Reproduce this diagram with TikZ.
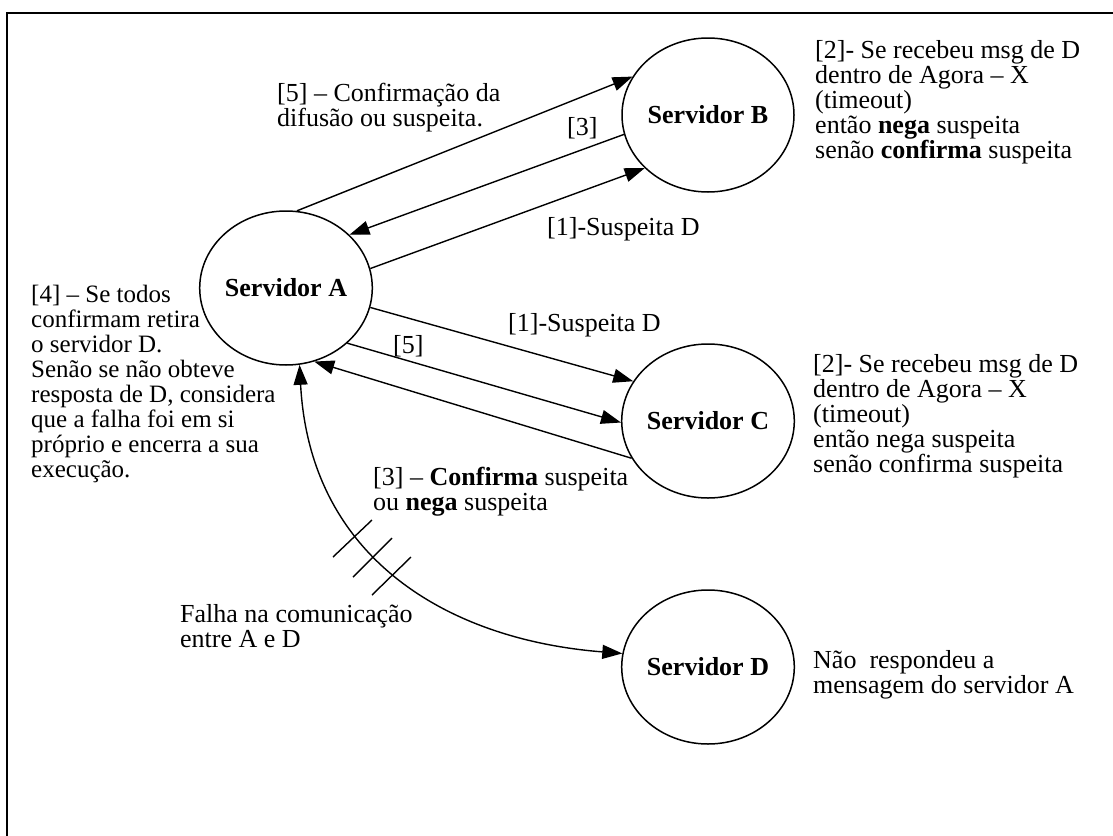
\documentclass[tikz,border=0pt]{standalone}
\usepackage{fontspec}
\setmainfont{Liberation Serif}
\usetikzlibrary{shapes.geometric,arrows.meta}

\begin{document}
\begin{tikzpicture}[
    x=1pt,
    y=-1pt,
    font=\fontsize{26}{25}\selectfont,
    servidor/.style={draw, ellipse, line width=1.5pt, minimum width=172pt,
      minimum height=154pt, inner sep=0pt,
      font=\fontsize{26}{25}\selectfont\bfseries},
    seta/.style={line width=1.4pt, -{Triangle[length=20pt,width=14pt]}},
    nota/.style={anchor=north west, align=left, inner sep=0pt}
  ]
    \useasboundingbox (0,0) rectangle (1113,835);
    \clip (0,0) rectangle (1113,835);
    % Moldura (cortada a direita e em baixo)
    \draw[line width=2pt] (7,13) rectangle (1140,860);

    % --- Servidores ---
    \node[servidor] (srvA) at (286,288) {Servidor A};
    \node[servidor] (srvB) at (708,115) {Servidor B};
    \node[servidor] (srvC) at (708,421) {Servidor C};
    \node[servidor] (srvD) at (708,667) {Servidor D};

    % --- A <-> B ---
    \draw[seta] (srvA.82) -- (srvB.153);
    \draw[seta] (srvB.193) -- (srvA.40);
    \draw[seta] (srvA.13) -- (srvB.220);
    \node[nota] (msgAB5) at (277,83) {[5] – Confirmação da\\difusão ou suspeita.};
    \node[nota] (msgBA3) at (567,117) {[3]};
    \node[nota] (msgAB1) at (547,217) {[1]-Suspeita D};

    % --- A <-> C ---
    \draw[seta] (srvA.347) -- (srvC.152);
    \draw[seta] (srvA.318) -- (srvC.181);
    \draw[seta] (srvC.206) -- (srvA.291);
    \node[nota] (msgAC1) at (508,313) {[1]-Suspeita D};
    \node[nota] (msgAC5) at (393,335) {[5]};
    \node[nota] (msgCA3) at (373,467)
      {[3] – \textbf{Confirma} suspeita\\ou \textbf{nega} suspeita};

    % --- A <-> D (falha) ---
    \draw[seta, {Triangle[length=20pt,width=14pt]}-{Triangle[length=20pt,width=14pt]}]
      (srvA.280) .. controls (310,560) and (450,640) .. (srvD.171);
    \draw[line width=1.4pt] (333,557) -- (372,520);
    \draw[line width=1.4pt] (353,577) -- (392,538);
    \draw[line width=1.4pt] (372,595) -- (411,557);
    \node[nota] (falha) at (180,604) {Falha na comunicação\\entre A e D};

    % --- Notas laterais ---
    \node[nota, font=\fontsize{25}{25}\selectfont] (notaA) at (31,285)
      {[4] – Se todos\\confirmam retira\\o servidor D.\\Senão se não obteve\\resposta de D, considera\\que a falha foi em si\\próprio e encerra a sua\\execução.};
    \node[nota] (notaB) at (815,40)
      {[2]- Se recebeu msg de D\\dentro de Agora – X\\(timeout)\\então \textbf{nega} suspeita\\senão \textbf{confirma} suspeita};
    \node[nota] (notaC) at (813,354)
      {[2]- Se recebeu msg de D\\dentro de Agora – X\\(timeout)\\então nega suspeita\\senão confirma suspeita};
    \node[nota] (notaD) at (813,650)
      {Não\ \ respondeu a\\mensagem do servidor A};
  \end{tikzpicture}
\end{document}
